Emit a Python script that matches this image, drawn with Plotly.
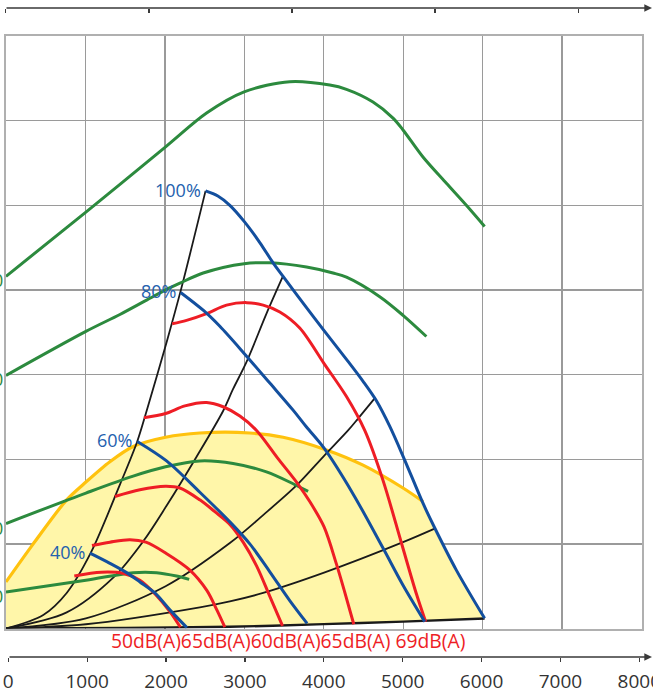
import plotly.graph_objects as go

W, H = 653, 691

# ---------------- data (x: airflow m3/h, y: pressure Pa) ----------------
x_ticks = [0, 1000, 2000, 3000, 4000, 5000, 6000, 7000, 8000]
x_tick_text = ["0", "1000", "2000", "3000", "4000", "5000", "6000", "7000", "8000"]
y_grid = [0, 100, 200, 300, 400, 500, 600, 700]
top_ticks_ls = [0, 500, 1000, 1500, 2000]  # l/s scale on top

# green curves
g1_x = [0, 1006, 2009, 2525, 2998, 3572, 4076, 4286, 4620, 4872, 4998, 5249, 5544, 5795, 6025]
g1_y = [416, 492, 569, 609, 634, 646, 642, 637, 622, 603, 589, 557, 526, 500, 475]
g2_x = [0, 1006, 1434, 1770, 2009, 2189, 2482, 2998, 3321, 3783, 4117, 4286, 4705, 4998, 5292]
g2_y = [299, 351, 371, 388, 400, 408, 420, 431, 432, 427, 420, 415, 392, 370, 345]
g3_x = [0, 1006, 1601, 2009, 2440, 2859, 3279, 3614, 3803]
g3_y = [124, 160, 180, 191, 198, 195, 185, 171, 162]
g4_x = [0, 1006, 1601, 1896, 2147, 2306]
g4_y = [43, 57, 66, 66, 62, 58]

# yellow working-area boundary
yel_x = [0, 343, 764, 1006, 1308, 1601, 2009, 2440, 3069, 3488, 4034, 4495, 4998, 5249]
yel_y = [55, 100, 152, 173, 197, 215, 226, 231, 231, 226, 211, 193, 166, 150]

# blue speed curves
b100_x = [2512, 2667, 2818, 2998, 3195, 3362, 3488, 3783, 4004, 4286, 4495, 4663, 4830, 5019, 5249, 5396, 5669, 6025]
b100_y = [517, 511, 500, 481, 456, 432, 416, 379, 352, 318, 292, 269, 239, 199, 148, 119, 69, 12]
b80_x = [2198, 2482, 2692, 2998, 3321, 3614, 3783, 4004, 4369, 4746, 4998, 5271]
b80_y = [397, 376, 357, 325, 290, 258, 238, 213, 159, 95, 51, 8]
b60_x = [1652, 2021, 2440, 2818, 3069, 3321, 3572, 3790]
b60_y = [221, 198, 161, 126, 100, 67, 33, 6]
b40_x = [1057, 1308, 1518, 1686, 1874, 2063, 2277]
b40_y = [89, 77, 66, 55, 42, 22, 1]
speed_labels = ["100%", "80%", "60%", "40%"]

# black system curves
k1_x = [0, 469, 764, 1065, 1434, 1652, 1770, 2021, 2210, 2512]
k1_y = [0, 16, 42, 89, 170, 221, 257, 338, 403, 517]
k2_x = [0, 764, 1350, 1727, 2021, 2399, 2733, 2859, 3028, 3279, 3481]
k2_y = [0, 19, 60, 103, 145, 203, 257, 283, 315, 372, 415]
k3_x = [0, 1006, 2009, 2818, 3237, 3657, 4004, 4306, 4432, 4651]
k3_y = [0, 12, 50, 101, 134, 169, 204, 234, 248, 273]
k4_x = [0, 1006, 2440, 2818, 3237, 4004, 4998, 5396]
k4_y = [0, 5, 25, 32, 42, 66, 102, 118]
k5_x = [0, 1500, 2818, 4000, 5000, 6025]
k5_y = [0, 0.7, 2.0, 5.2, 8.1, 11.8]

# red sound curves
r1_x = [860, 1200, 1480, 1686, 1885, 2063, 2195]
r1_y = [62, 66.5, 65, 57, 40, 20, 1.5]
r2_x = [1082, 1308, 1560, 1761, 2013, 2315, 2528, 2654, 2755]
r2_y = [98, 102, 105, 102, 89, 69, 45, 22, 1.5]
r3_x = [1371, 1686, 2009, 2189, 2440, 2629, 2818, 2985, 3154, 3321, 3481]
r3_y = [156, 164, 168, 166, 152, 138, 123, 102, 74, 38, 3]
r4_x = [1736, 2009, 2252, 2525, 2733, 2944, 3154, 3422, 3673, 3824, 4004, 4160, 4264, 4378]
r4_y = [249, 254, 263, 267, 262, 251, 234, 201, 171, 150, 120, 76, 43, 5]
r5_x = [2092, 2273, 2525, 2776, 3028, 3237, 3447, 3698, 4004, 4286, 4516, 4746, 4978, 5166, 5283]
r5_y = [360, 364, 372, 382, 385, 382, 374, 355, 313, 274, 234, 175, 101, 41, 8]
db_labels = ["50dB(A)", "65dB(A)", "60dB(A)", "65dB(A)", " 69dB(A)"]

# ---------------- styles ----------------
FONT = "Open Sans"
GREEN = "#2C8A3E"
BLUE = "#134F9E"
BLUE_TXT = "#2461AE"
RED = "#EE1D25"
BLACK = "#1a1a1a"
YEL_LINE = "#FFC20E"
YEL_FILL = "#FFF6A9"
GRID = "#9a9a9a"
BORDER = "#b0b0b0"
AX = "#3a3a3a"

fig = go.Figure()

# yellow filled area: yellow boundary -> blue 100% tail -> bottom system curve back
fx = list(yel_x) + [x for x in b100_x if x > yel_x[-1]] + list(reversed(k5_x))
fy = list(yel_y) + [y for x, y in zip(b100_x, b100_y) if x > yel_x[-1]] + list(reversed(k5_y))
fig.add_trace(go.Scatter(x=fx, y=fy, mode="lines", fill="toself", fillcolor=YEL_FILL,
                         line=dict(width=0), hoverinfo="skip"))
fig.add_trace(go.Scatter(x=yel_x, y=yel_y, mode="lines",
                         line=dict(color=YEL_LINE, width=3.2, shape="spline", smoothing=0.8)))

def add(xs, ys, color, width):
    fig.add_trace(go.Scatter(x=xs, y=ys, mode="lines", hoverinfo="skip",
                             line=dict(color=color, width=width, shape="spline", smoothing=0.9)))

for xs, ys in [(k1_x, k1_y), (k2_x, k2_y), (k3_x, k3_y), (k4_x, k4_y)]:
    add(xs, ys, BLACK, 1.8)
add(k5_x, k5_y, BLACK, 2.4)
for xs, ys in [(g1_x, g1_y), (g2_x, g2_y), (g3_x, g3_y), (g4_x, g4_y)]:
    add(xs, ys, GREEN, 3)
for xs, ys in [(r1_x, r1_y), (r2_x, r2_y), (r3_x, r3_y), (r4_x, r4_y), (r5_x, r5_y)]:
    add(xs, ys, RED, 3)
blues = [(b100_x, b100_y), (b80_x, b80_y), (b60_x, b60_y), (b40_x, b40_y)]
for xs, ys in blues:
    add(xs, ys, BLUE, 3)

# invisible traces so the separate axis strips exist
fig.add_trace(go.Scatter(x=[0], y=[0], xaxis="x2", yaxis="y2", mode="markers",
                         marker=dict(opacity=0), hoverinfo="skip"))
fig.add_trace(go.Scatter(x=[0], y=[0], xaxis="x3", yaxis="y3", mode="markers",
                         marker=dict(opacity=0), hoverinfo="skip"))

annotations = []
# speed labels
for (xs, ys), lab in zip(blues, speed_labels):
    annotations.append(dict(x=xs[0], y=ys[0], xref="x", yref="y", text=lab, showarrow=False,
                            xanchor="right", yanchor="middle", xshift=-3, yshift=1,
                            font=dict(family=FONT, size=18, color=BLUE_TXT)))
# dB label line
annotations.append(dict(x=r1_x[0] + 440, y=(H - 640) / H, xref="x", yref="paper",
                        text="".join(db_labels), showarrow=False, xanchor="left", yanchor="middle",
                        font=dict(family=FONT, size=19.3, color=RED)))
# clipped green labels at the left edge
for ys in [g1_y, g2_y, g3_y, g4_y]:
    annotations.append(dict(x=0, y=ys[0], xref="x", yref="y", text="0", showarrow=False,
                            xanchor="right", yanchor="middle", xshift=-1, yshift=-4,
                            font=dict(family=FONT, size=18, color=GREEN)))
# axis lines with arrows
yb = (H - 657) / H
yt = (H - 8) / H
annotations.append(dict(x=652 / W, y=yb, xref="paper", yref="paper", ax=-644, ay=0, text="",
                        showarrow=True, arrowhead=2, arrowsize=1.1, arrowwidth=1.4, arrowcolor=AX))
annotations.append(dict(x=653 / W, y=yt, xref="paper", yref="paper", ax=-648, ay=0, text="",
                        showarrow=True, arrowhead=2, arrowsize=1.1, arrowwidth=1.4, arrowcolor=AX))

tick_common = dict(ticklen=4, tickwidth=1.3, tickcolor=AX, showgrid=False, zeroline=False,
                   showline=False, fixedrange=True, automargin=False)

fig.update_layout(
    template="none",
    width=W, height=H, margin=dict(l=0, r=0, t=0, b=0, pad=0, autoexpand=False),
    paper_bgcolor="white", plot_bgcolor="rgba(0,0,0,0)", showlegend=False,
    font=dict(family=FONT), hovermode=False,
    xaxis=dict(domain=[6 / W, 641.5 / W], range=[0, 8000], tickvals=x_ticks, showticklabels=False,
               ticks="", showgrid=True, gridcolor=GRID, gridwidth=1.3, zeroline=False,
               showline=True, mirror=True, linecolor=BORDER, linewidth=2, automargin=False),
    yaxis=dict(domain=[(H - 628.5) / H, (H - 36) / H], range=[0, 700], tickvals=y_grid,
               showticklabels=False, ticks="", showgrid=True, gridcolor=GRID, gridwidth=1.3,
               zeroline=False, showline=True, mirror=True, linecolor=BORDER, linewidth=2,
               automargin=False),
    xaxis2=dict(domain=[8.3 / W, 639.3 / W], range=[0, 8000], anchor="y2", side="bottom",
                tickvals=x_ticks, ticktext=x_tick_text, ticks="outside", ticklabelstandoff=3,
                ticklabeloverflow="allow",
                tickfont=dict(family=FONT, size=19, color="#333"), **tick_common),
    xaxis4=dict(overlaying="x2", anchor="y2", side="bottom", range=[0, 8000], tickvals=x_ticks,
                showticklabels=False, ticks="inside", **tick_common),
    yaxis2=dict(domain=[yb, yb + 0.01], anchor="x2", visible=False, range=[0, 1], automargin=False),
    xaxis3=dict(domain=[5.8 / W, 641.8 / W], range=[0, 8000 / 3.6], anchor="y3", side="bottom",
                tickvals=top_ticks_ls, showticklabels=False, ticks="outside", **tick_common),
    xaxis5=dict(overlaying="x3", anchor="y3", side="bottom", range=[0, 8000 / 3.6],
                tickvals=top_ticks_ls, showticklabels=False, ticks="inside", **tick_common),
    yaxis3=dict(domain=[yt, yt + 0.005], anchor="x3", visible=False, range=[0, 1], automargin=False),
    annotations=annotations,
)

fig.write_html("out.html", config={"displayModeBar": False, "staticPlot": True},
               post_script="document.body.style.margin='0px';document.body.style.overflow='hidden';")
